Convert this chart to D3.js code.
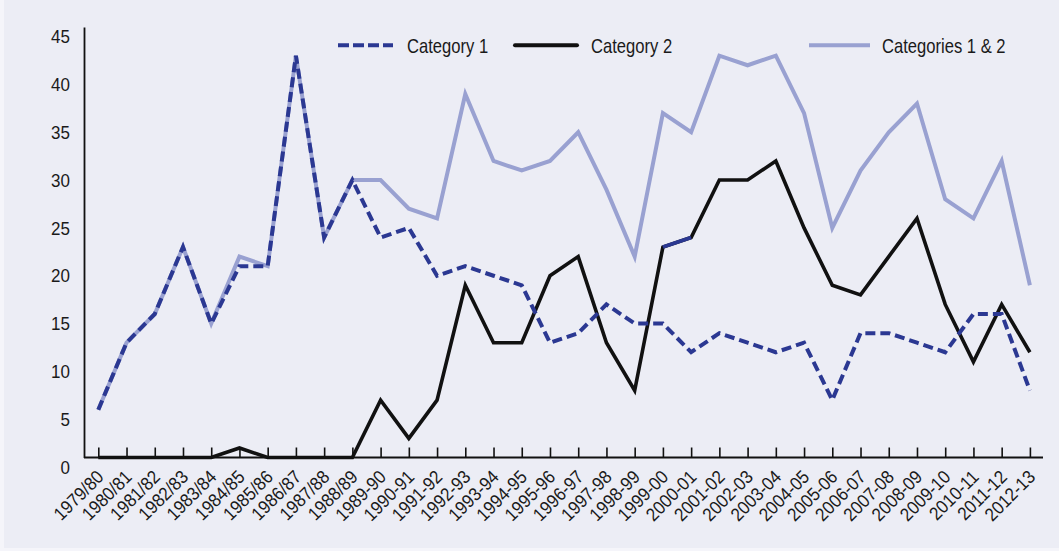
<!DOCTYPE html>
<html>
<head>
<meta charset="utf-8">
<script src="https://cdn.jsdelivr.net/npm/d3@7"></script>
<style>
  html, body { margin: 0; padding: 0; background: #f5f5fa; }
  svg { display: block; }
</style>
</head>
<body>
<svg id="chart" width="1059" height="551"></svg>
<script>
// ---- data ----
const categories = ["1979/80","1980/81","1981/82","1982/83","1983/84","1984/85","1985/86","1986/87","1987/88","1988/89",
  "1989-90","1990-91","1991-92","1992-93","1993-94","1994-95","1995-96","1996-97","1997-98","1998-99",
  "1999-00","2000-01","2001-02","2002-03","2003-04","2004-05","2005-06","2006-07","2007-08","2008-09",
  "2009-10","2010-11","2011-12","2012-13"];
const category1 = [5,12,15,22,14,20,20,42,23,29,23,24,19,20,19,18,12,13,16,14,14,11,13,12,11,12,6,13,13,12,11,15,15,7];
const category2 = [0,0,0,0,0,1,0,0,0,0,6,2,6,18,12,12,19,21,12,7,22,23,29,29,31,24,18,17,21,25,16,10,16,11];
const categories12 = [5,12,15,22,14,21,20,42,23,29,29,26,25,38,31,30,31,34,28,21,36,34,42,41,42,36,24,30,34,37,27,25,31,18];
const yTicks = [0,5,10,15,20,25,30,35,40,45];
const highlightSegment = ["1999-00","2000-01"]; // segment of Category 2 drawn in navy in the original
const seriesNames = ["Category 1","Category 2","Categories 1 & 2"];

// ---- layout ----
const W = 1059, H = 551;
const margin = {left: 84, top: 27, right: 16, bottom: 93.5};
const innerW = W - margin.left - margin.right;
const innerH = H - margin.top - margin.bottom;

const colNavy = "#2b3892", colBlack = "#111111", colLight = "#99a1d1";
const font = "'Liberation Sans', Arial, sans-serif";
const narrowAxis = 0.92;   // condensed look of the original typeface (digits)
const narrowLegend = 0.83; // condensed look of the original typeface (words)

const svg = d3.select("#chart");
svg.append("rect").attr("x", 4).attr("y", 0).attr("width", W - 4).attr("height", H - 3).attr("fill", "#ecedf5");

const g = svg.append("g").attr("transform", `translate(${margin.left},${margin.top})`);

const x = d3.scalePoint().domain(categories).range([14.3, 945.9]);
const y = d3.scaleLinear().domain([0, 45]).range([innerH, 0]);

// y axis
const yAx = g.append("g").call(d3.axisLeft(y).tickValues(yTicks).tickSize(0).tickSizeOuter(0).tickPadding(14));
yAx.select(".domain").attr("stroke", "#111").attr("stroke-width", 1.8);
yAx.selectAll("text")
  .attr("font-family", font).attr("font-size", 18.5).attr("fill", "#1a1a1a")
  .attr("x", 0).attr("dy", 0)
  .attr("transform", `translate(-14,15.8) scale(${narrowAxis},1)`);

// x axis
const xAx = g.append("g").attr("transform", `translate(0,${innerH})`)
  .call(d3.axisBottom(x).tickSizeInner(-10).tickSizeOuter(0).tickPadding(0));
xAx.select(".domain").remove();
xAx.append("line").attr("x1", 0).attr("x2", innerW).attr("y1", 0).attr("y2", 0)
  .attr("stroke", "#111").attr("stroke-width", 2);
xAx.selectAll(".tick line").attr("stroke", "#111").attr("stroke-width", 1.6);
xAx.selectAll(".tick text")
  .attr("font-family", font).attr("font-size", 18.5).attr("fill", "#1a1a1a")
  .attr("x", 0).attr("y", 0).attr("dy", 0)
  .attr("text-anchor", "end")
  .attr("transform", `translate(6,20.5) rotate(-45) scale(${narrowAxis},1)`);

// lines
const line = d3.line().x((d, i) => x(categories[i])).y(d => y(d));
const lineXY = d3.line().x(d => x(d.c)).y(d => y(d.v));

g.append("path").datum(categories12).attr("d", line)
  .attr("fill", "none").attr("stroke", colLight).attr("stroke-width", 4);
g.append("path").datum(category2).attr("d", line)
  .attr("fill", "none").attr("stroke", colBlack).attr("stroke-width", 3.6);
const segData = highlightSegment.map(c => ({c, v: category2[categories.indexOf(c)]}));
g.append("path").datum(segData).attr("d", lineXY)
  .attr("fill", "none").attr("stroke", colNavy).attr("stroke-width", 3.6);
g.append("path").datum(category1).attr("d", line)
  .attr("fill", "none").attr("stroke", colNavy).attr("stroke-width", 4)
  .attr("stroke-dasharray", "10,5");

// legend
const legend = svg.append("g");
const items = [
  {name: seriesNames[0], x1: 338, x2: 393, tx: 407, color: colNavy, dash: "11,4", cap: "butt"},
  {name: seriesNames[1], x1: 515, x2: 577, tx: 591, color: colBlack, dash: null, cap: "round"},
  {name: seriesNames[2], x1: 809, x2: 870, tx: 882, color: colLight, dash: null, cap: "butt"}
];
items.forEach(it => {
  legend.append("line").attr("x1", it.x1).attr("x2", it.x2).attr("y1", 45.3).attr("y2", 45.3)
    .attr("stroke", it.color).attr("stroke-width", 4).attr("stroke-linecap", it.cap)
    .attr("stroke-dasharray", it.dash);
  legend.append("text").attr("transform", `translate(${it.tx},52.5) scale(${narrowLegend},1)`).text(it.name)
    .attr("font-family", font).attr("font-size", 20).attr("fill", "#1a1a1a");
});
</script>
</body>
</html>
